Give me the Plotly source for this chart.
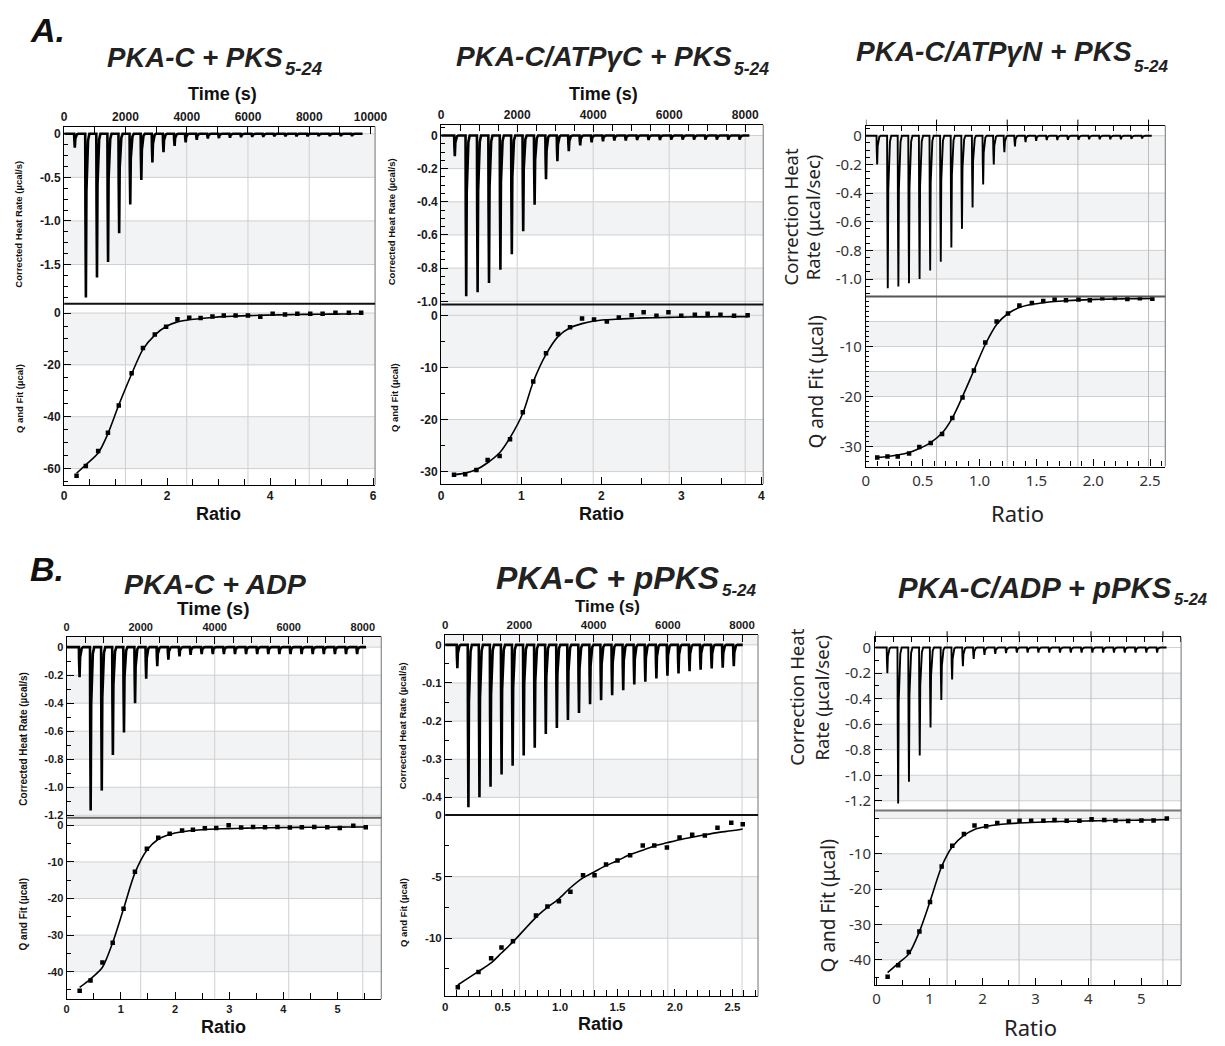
import plotly.graph_objects as go

W, H = 1225, 1046

# ---------------- data ----------------
# Thermograms: injection times (s) and peak heat rate (µcal/s)
A1_time = [324, 686, 1048, 1410, 1772, 2134, 2496, 2858, 3220, 3582, 3944, 4306, 4668, 5030, 5392, 5754, 6116, 6478, 6840, 7202, 7564, 7926, 8288, 8650, 9012, 9374]
A1_peak = [-0.16, -1.88, -1.65, -1.47, -1.14, -0.81, -0.53, -0.33, -0.21, -0.14, -0.10, -0.07, -0.055, -0.05, -0.045, -0.04, -0.035, -0.035, -0.03, -0.03, -0.03, -0.03, -0.025, -0.025, -0.025, -0.025]
A1_end = 9740

A2_time = [340, 640, 940, 1240, 1540, 1840, 2140, 2440, 2740, 3040, 3340, 3640, 3940, 4240, 4540, 4840, 5140, 5440, 5740, 6040, 6340, 6640, 6940, 7240, 7540, 7840]
A2_peak = [-0.125, -0.97, -0.946, -0.89, -0.81, -0.716, -0.577, -0.417, -0.264, -0.155, -0.095, -0.06, -0.042, -0.035, -0.03, -0.03, -0.028, -0.028, -0.028, -0.025, -0.025, -0.025, -0.025, -0.025, -0.025, -0.025]
A2_end = 8110

A3_time = [300, 600, 900, 1200, 1500, 1800, 2100, 2400, 2700, 3000, 3300, 3600, 3900, 4200, 4500, 4800, 5100, 5400, 5700, 6000, 6300, 6600, 6900, 7200, 7500, 7800]
A3_peak = [-0.2, -1.065, -1.053, -1.03, -1.0, -0.94, -0.88, -0.78, -0.65, -0.50, -0.34, -0.2, -0.115, -0.074, -0.044, -0.035, -0.03, -0.03, -0.028, -0.028, -0.025, -0.025, -0.025, -0.025, -0.022, -0.02]
A3_end = 8090

B1_time = [330, 630, 930, 1230, 1530, 1830, 2130, 2430, 2730, 3030, 3330, 3630, 3930, 4230, 4530, 4830, 5130, 5430, 5730, 6030, 6330, 6630, 6930, 7230, 7530, 7830]
B1_peak = [-0.214, -1.165, -1.024, -0.77, -0.61, -0.40, -0.226, -0.136, -0.09, -0.066, -0.055, -0.05, -0.05, -0.05, -0.05, -0.05, -0.05, -0.05, -0.05, -0.05, -0.05, -0.05, -0.05, -0.05, -0.05, -0.05]
B1_end = 8090

B2_time = [310, 608, 906, 1204, 1502, 1800, 2098, 2396, 2694, 2992, 3290, 3588, 3886, 4184, 4482, 4780, 5078, 5376, 5674, 5972, 6270, 6568, 6866, 7164, 7462, 7760]
B2_peak = [-0.061, -0.426, -0.40, -0.372, -0.34, -0.317, -0.29, -0.27, -0.234, -0.218, -0.197, -0.179, -0.156, -0.145, -0.132, -0.119, -0.104, -0.097, -0.088, -0.081, -0.075, -0.069, -0.065, -0.062, -0.06, -0.056]
B2_end = 8020

B3_time = [320, 620, 920, 1220, 1520, 1820, 2120, 2420, 2720, 3020, 3320, 3620, 3920, 4220, 4520, 4820, 5120, 5420, 5720, 6020, 6320, 6620, 6920, 7220, 7520, 7820]
B3_peak = [-0.2, -1.22, -1.05, -0.845, -0.626, -0.41, -0.25, -0.147, -0.09, -0.057, -0.05, -0.044, -0.04, -0.04, -0.04, -0.04, -0.04, -0.04, -0.04, -0.04, -0.04, -0.04, -0.04, -0.04, -0.04, -0.04]
B3_end = 8100

# Isotherms: molar ratio, integrated heat Q (µcal) and fit (µcal)
A1_ratio = [0.24, 0.42, 0.66, 0.85, 1.06, 1.31, 1.53, 1.76, 1.98, 2.20, 2.43, 2.65, 2.88, 3.10, 3.33, 3.57, 3.81, 4.05, 4.29, 4.53, 4.78, 5.02, 5.27, 5.53, 5.77]
A1_q = [-62.8, -59.0, -53.2, -46.2, -35.7, -23.2, -13.5, -8.3, -5.3, -2.4, -1.8, -1.9, -1.3, -0.9, -0.9, -0.9, -1.4, -0.3, -0.6, -0.3, -0.3, -0.3, 0.1, 0.1, 0.1]
A1_fit = [-61.8, -58.5, -54.0, -46.5, -35.5, -23.5, -14.0, -8.5, -5.2, -3.4, -2.6, -2.1, -1.7, -1.4, -1.2, -1.0, -0.85, -0.75, -0.65, -0.55, -0.5, -0.45, -0.4, -0.35, -0.3]

A2_ratio = [0.16, 0.30, 0.44, 0.58, 0.73, 0.86, 1.02, 1.15, 1.31, 1.46, 1.61, 1.76, 1.91, 2.07, 2.22, 2.38, 2.53, 2.69, 2.84, 3.00, 3.17, 3.33, 3.49, 3.66, 3.83]
A2_q = [-30.6, -30.5, -29.7, -27.8, -27.0, -23.8, -18.6, -12.7, -7.3, -3.6, -2.3, -0.6, -0.8, -1.2, -0.4, 0.0, 0.6, -0.1, 0.6, -0.1, 0.1, 0.3, 0.1, -0.1, 0.0]
A2_fit = [-30.6, -30.3, -29.6, -28.3, -26.4, -23.5, -18.8, -12.8, -7.5, -4.1, -2.4, -1.6, -1.1, -0.85, -0.7, -0.6, -0.5, -0.45, -0.4, -0.35, -0.3, -0.3, -0.28, -0.26, -0.25]

A3_ratio = [0.10, 0.19, 0.28, 0.38, 0.47, 0.57, 0.67, 0.76, 0.85, 0.95, 1.05, 1.15, 1.25, 1.35, 1.46, 1.56, 1.66, 1.76, 1.87, 1.97, 2.08, 2.19, 2.30, 2.41, 2.52]
A3_q = [-32.2, -32.0, -32.0, -31.4, -30.1, -29.3, -27.5, -24.3, -20.2, -14.8, -9.2, -5.0, -3.4, -1.8, -1.3, -0.9, -0.6, -0.75, -0.6, -0.75, -0.36, -0.3, -0.5, -0.36, -0.43]
A3_fit = [-32.2, -32.0, -31.7, -31.2, -30.4, -29.2, -27.3, -24.3, -20.0, -14.8, -9.6, -5.6, -3.4, -2.2, -1.6, -1.25, -1.0, -0.85, -0.72, -0.62, -0.55, -0.5, -0.46, -0.43, -0.4]

B1_ratio = [0.24, 0.44, 0.66, 0.85, 1.05, 1.26, 1.48, 1.69, 1.90, 2.13, 2.33, 2.55, 2.76, 2.99, 3.22, 3.44, 3.66, 3.89, 4.12, 4.34, 4.57, 4.81, 5.04, 5.29, 5.52]
B1_q = [-45.2, -42.4, -37.5, -32.1, -22.8, -12.7, -6.4, -3.4, -2.3, -1.4, -1.2, -0.8, -0.7, 0.0, -0.6, -0.45, -0.55, -0.45, -0.6, -0.55, -0.45, -0.55, -0.7, -0.1, -0.55]
B1_fit = [-44.3, -42.0, -38.8, -32.0, -22.8, -13.0, -6.8, -3.8, -2.5, -1.75, -1.4, -1.15, -1.0, -0.9, -0.8, -0.72, -0.66, -0.62, -0.58, -0.55, -0.52, -0.5, -0.48, -0.46, -0.45]

B2_ratio = [0.11, 0.29, 0.40, 0.49, 0.59, 0.79, 0.89, 0.99, 1.09, 1.20, 1.30, 1.40, 1.50, 1.61, 1.72, 1.82, 1.93, 2.04, 2.15, 2.26, 2.37, 2.49, 2.59]
B2_q = [-13.98, -12.75, -11.63, -10.75, -10.24, -8.16, -7.43, -7.0, -6.23, -4.89, -4.89, -4.01, -3.69, -3.26, -2.46, -2.46, -2.62, -1.82, -1.6, -1.66, -1.02, -0.61, -0.75]
B2_fit = [-13.8, -12.7, -12.0, -11.2, -10.3, -8.3, -7.5, -6.8, -5.9, -5.1, -4.6, -4.1, -3.7, -3.2, -2.85, -2.5, -2.25, -2.0, -1.8, -1.6, -1.42, -1.27, -1.12]

B3_ratio = [0.21, 0.41, 0.61, 0.81, 1.01, 1.23, 1.43, 1.65, 1.85, 2.07, 2.28, 2.50, 2.70, 2.92, 3.15, 3.36, 3.59, 3.83, 4.06, 4.30, 4.51, 4.75, 5.00, 5.23, 5.48]
B3_q = [-44.8, -41.5, -37.8, -32.0, -23.6, -13.6, -7.7, -4.4, -2.0, -2.2, -1.3, -0.84, -0.65, -0.65, -0.65, -0.47, -0.65, -0.65, -0.2, -0.47, -0.56, -0.75, -0.56, -0.56, 0.0]
B3_fit = [-43.6, -41.0, -38.3, -32.0, -23.5, -13.6, -8.0, -4.8, -3.1, -2.3, -1.8, -1.5, -1.3, -1.15, -1.0, -0.9, -0.82, -0.75, -0.68, -0.62, -0.57, -0.52, -0.47, -0.42, -0.3]

# Tick labels
TIME_TICKS_10K = [0, 2000, 4000, 6000, 8000, 10000]
TIME_TICKS_8K = [0, 2000, 4000, 6000, 8000]
A1_ytop_ticks = [0, -0.5, -1.0, -1.5]
A1_ytop_text = ['0', '-0.5', '-1.0', '-1.5']
A1_q_ticks = [0, -20, -40, -60]
A1_r_ticks = [0, 2, 4, 6]
A2_ytop_ticks = [0, -0.2, -0.4, -0.6, -0.8, -1.0]
A2_ytop_text = ['0', '-0.2', '-0.4', '-0.6', '-0.8', '-1.0']
A2_q_ticks = [0, -10, -20, -30]
A2_r_ticks = [0, 1, 2, 3, 4]
A3_q_ticks = [-10, -20, -30]
A3_r_ticks = [0, 0.5, 1.0, 1.5, 2.0, 2.5]
A3_r_text = ['0', '0.5', '1.0', '1.5', '2.0', '2.5']
B1_ytop_ticks = [0, -0.2, -0.4, -0.6, -0.8, -1.0, -1.2]
B1_ytop_text = ['0', '-0.2', '-0.4', '-0.6', '-0.8', '-1.0', '-1.2']
B1_q_ticks = [0, -10, -20, -30, -40]
B1_r_ticks = [0, 1, 2, 3, 4, 5]
B2_ytop_ticks = [0, -0.1, -0.2, -0.3, -0.4]
B2_ytop_text = ['0', '-0.1', '-0.2', '-0.3', '-0.4']
B2_q_ticks = [0, -5, -10]
B2_r_ticks = [0, 0.5, 1.0, 1.5, 2.0, 2.5]
B2_r_text = ['0', '0.5', '1.0', '1.5', '2.0', '2.5']
B3_q_ticks = [-10, -20, -30, -40]


def lab(v):
    return [str(x) for x in v]


BAND = '#f2f3f5'
GRID = '#cfcfcf'

PANELS = [
    dict(box=(61, 376, 121.7, 300.5, 483.3), bold=True, tsize=12,
         time=A1_time, peak=A1_peak, end=A1_end, ratio=A1_ratio, q=A1_q, fit=A1_fit,
         trange=[0, 10150], yrange=[-1.949, 0.083], rrange=[0, 6.04], qrange=[-66.2, 3.63],
         t_vals=TIME_TICKS_10K, t_labels=True, t_minor=1000,
         y_vals=A1_ytop_ticks, y_text=A1_ytop_text, y_minor=0.125,
         q_vals=A1_q_ticks, q_text=lab(A1_q_ticks), q_minor=5,
         r_vals=A1_r_ticks, r_text=lab(A1_r_ticks), r_minor=0.5,
         bands_top=[(-0.5, 0), (-1.5, -1.0)], grid_top=[0, -0.5, -1.0, -1.5],
         bands_bot=[(-20, 0), (-60, -40)], grid_bot=[0, -20, -40, -60],
         sep_color='#111'),
    dict(box=(443, 769.3, 120, 301.5, 482.7), bold=True, tsize=12,
         time=A2_time, peak=A2_peak, end=A2_end, ratio=A2_ratio, q=A2_q, fit=A2_fit,
         trange=[0, 8475], yrange=[-1.02, 0.064], rrange=[0, 4.025], qrange=[-32.4, 2.05],
         t_vals=TIME_TICKS_8K, t_labels=True, t_minor=500,
         y_vals=A2_ytop_ticks, y_text=A2_ytop_text, y_minor=0.05,
         q_vals=A2_q_ticks, q_text=lab(A2_q_ticks), q_minor=5,
         r_vals=A2_r_ticks, r_text=lab(A2_r_ticks), r_minor=0.5,
         bands_top=[(-0.2, 0), (-0.6, -0.4), (-1.0, -0.8)], grid_top=[0, -0.2, -0.4, -0.6, -0.8, -1.0],
         bands_bot=[(-10, 3), (-30, -20)], grid_bot=[0, -10, -20, -30],
         sep_color='#111'),
    dict(box=(873.3, 1176.7, 120.7, 293.3, 465), bold=False, tsize=15,
         time=A3_time, peak=A3_peak, end=A3_end, ratio=A3_ratio, q=A3_q, fit=A3_fit,
         trange=[0, 8475], yrange=[-1.122, 0.071], rrange=[0, 2.634], qrange=[-34.0, 0.0],
         t_vals=TIME_TICKS_8K, t_labels=False, t_minor=500,
         y_vals=A2_ytop_ticks, y_text=A2_ytop_text, y_minor=0.05,
         q_vals=A3_q_ticks, q_text=lab(A3_q_ticks), q_minor=1,
         r_vals=A3_r_ticks, r_text=A3_r_text, r_minor=0.1,
         bands_top=[(-0.2, 0), (-0.6, -0.4), (-1.0, -0.8)], grid_top=[0, -0.2, -0.4, -0.6, -0.8, -1.0],
         bands_bot=[(-10, -5), (-20, -15), (-30, -25)], grid_bot=[-5, -10, -15, -20, -25, -30],
         sep_color='#555'),
    dict(box=(63.5, 382.3, 636.7, 819.5, 1002.7), bold=True, tsize=11,
         time=B1_time, peak=B1_peak, end=B1_end, ratio=B1_ratio, q=B1_q, fit=B1_fit,
         trange=[0, 8501], yrange=[-1.217, 0.075], rrange=[0, 5.807], qrange=[-47.5, 2.1],
         t_vals=TIME_TICKS_8K, t_labels=True, t_minor=500,
         y_vals=B1_ytop_ticks, y_text=B1_ytop_text, y_minor=0.1,
         q_vals=B1_q_ticks, q_text=lab(B1_q_ticks), q_minor=5,
         r_vals=B1_r_ticks, r_text=lab(B1_r_ticks), r_minor=0.5,
         bands_top=[(0, 0.2), (-0.4, -0.2), (-0.8, -0.6), (-1.2, -1.0)], grid_top=[0, -0.2, -0.4, -0.6, -0.8, -1.0, -1.2],
         bands_bot=[(0, 10), (-20, -10), (-40, -30)], grid_bot=[0, -10, -20, -30, -40],
         sep_color='#666'),
    dict(box=(447, 764, 635, 816.7, 1000), bold=True, tsize=11.5,
         time=B2_time, peak=B2_peak, end=B2_end, ratio=B2_ratio, q=B2_q, fit=B2_fit,
         trange=[0, 8431], yrange=[-0.446, 0.026], rrange=[0, 2.723], qrange=[-14.73, 0.02],
         t_vals=TIME_TICKS_8K, t_labels=True, t_minor=500,
         y_vals=B2_ytop_ticks, y_text=B2_ytop_text, y_minor=0.05,
         q_vals=B2_q_ticks, q_text=lab(B2_q_ticks), q_minor=2.5,
         r_vals=B2_r_ticks, r_text=B2_r_text, r_minor=0.1,
         bands_top=[(0, 0.1), (-0.2, -0.1), (-0.4, -0.3)], grid_top=[0, -0.1, -0.2, -0.3, -0.4],
         bands_bot=[(-10, -5)], grid_bot=[-5, -10],
         sep_color='#111'),
    dict(box=(882.7, 1192.7, 637.3, 812.3, 988.3), bold=False, tsize=15,
         time=B3_time, peak=B3_peak, end=B3_end, ratio=B3_ratio, q=B3_q, fit=B3_fit,
         trange=[0, 8505], yrange=[-1.276, 0.081], rrange=[-0.025, 5.75], qrange=[-47.06, 2.24],
         t_vals=TIME_TICKS_8K, t_labels=False, t_minor=500,
         y_vals=B1_ytop_ticks, y_text=B1_ytop_text, y_minor=0.1,
         q_vals=B3_q_ticks, q_text=lab(B3_q_ticks), q_minor=5,
         r_vals=B1_r_ticks, r_text=lab(B1_r_ticks), r_minor=0.5,
         bands_top=[(-0.4, -0.2), (-0.8, -0.6), (-1.2, -1.0)], grid_top=[0, -0.2, -0.4, -0.6, -0.8, -1.0, -1.2],
         bands_bot=[(0, 10), (-20, -10), (-40, -30)], grid_bot=[0, -10, -20, -30, -40],
         sep_color='#777'),
]

# spike outline (seconds after injection at ~26 s/px, fraction of peak)
SPIKE_DT = [0, 6, 18, 32, 50, 75, 110]
SPIKE_FR = [0, 0.5, 1.0, 0.35, 0.12, 0.04, 0.0]


def sfx(n):
    return '' if n == 1 else str(n)


fig = go.Figure()
shapes, annos = [], []
axes = {}

for i, p in enumerate(PANELS):
    a, b = 2 * i + 1, 2 * i + 2
    xa, ya, xb, yb = 'x' + sfx(a), 'y' + sfx(a), 'x' + sfx(b), 'y' + sfx(b)
    L, R, T, S, B = p['box']
    bold = p['bold']
    if bold:
        tf = dict(family='Liberation Sans, Arial', size=p['tsize'], color='#1a1a1a', weight='bold')
    else:
        tf = dict(family='Noto Sans', size=p['tsize'], color='#333333')

    # thermogram trace
    sc = (p['trange'][1] / (R - L)) / 26.0
    xs, ys = [0.0], [0.0]
    for t, pk in zip(p['time'], p['peak']):
        for dt, fr in zip(SPIKE_DT, SPIKE_FR):
            xs.append(t + dt * sc)
            ys.append(pk * fr)
    xs.append(p['end'])
    ys.append(0.0)
    fig.add_trace(go.Scatter(x=xs, y=ys, mode='lines', xaxis=xa, yaxis=ya,
                             line=dict(color='black', width=2.6 if bold else 1.9),
                             hoverinfo='skip'))
    # isotherm
    fig.add_trace(go.Scatter(x=p['ratio'], y=p['fit'], mode='lines', xaxis=xb, yaxis=yb,
                             line=dict(color='black', width=1.6, shape='spline', smoothing=0.8),
                             hoverinfo='skip'))
    fig.add_trace(go.Scatter(x=p['ratio'], y=p['q'], mode='markers', xaxis=xb, yaxis=yb,
                             marker=dict(symbol='square', size=4.5, color='black'),
                             hoverinfo='skip'))

    tick_major = dict(ticks='inside', ticklen=7, tickcolor='black', tickwidth=1)
    common = dict(showline=True, linecolor='black', linewidth=1.3, showgrid=False,
                  zeroline=False, tickfont=tf, tickmode='array', fixedrange=True)

    if p['t_labels']:
        axes['xaxis' + sfx(a)] = dict(
            domain=[L / W, R / W], range=p['trange'], anchor=ya, side='top',
            tickvals=p['t_vals'], ticktext=lab(p['t_vals']),
            ticks='inside', ticklen=7, tickcolor='black',
            minor=dict(dtick=p['t_minor'], tick0=0, ticks='inside', ticklen=6,
                       tickcolor='black', showgrid=False),
            **common)
    else:
        # no tick labels: minor ticks inside, major ticks drawn above the frame
        axes['xaxis' + sfx(a)] = dict(
            domain=[L / W, R / W], range=p['trange'], anchor=ya, side='top',
            tickvals=[], showticklabels=False, ticks='',
            minor=dict(dtick=p['t_minor'], tick0=0, ticks='inside', ticklen=5,
                       tickcolor='black', showgrid=False),
            **common)
        for v in p['t_vals']:
            shapes.append(dict(type='line', xref=xa, yref='paper', x0=v, x1=v,
                               y0=1 - T / H, y1=1 - (T - 6) / H,
                               line=dict(color='black', width=1)))
    axes['yaxis' + sfx(a)] = dict(
        domain=[1 - S / H, 1 - T / H], range=p['yrange'], anchor=xa, side='left',
        tickvals=p['y_vals'], ticktext=p['y_text'], **tick_major,
        minor=dict(dtick=p['y_minor'], tick0=0, ticks='inside', ticklen=4,
                   tickcolor='black', showgrid=False),
        **common)
    axes['xaxis' + sfx(b)] = dict(
        domain=[L / W, R / W], range=p['rrange'], anchor=yb, side='bottom',
        tickvals=p['r_vals'], ticktext=p['r_text'], **tick_major,
        minor=dict(dtick=p['r_minor'], tick0=0, ticks='inside', ticklen=6 if bold else 5,
                   tickcolor='black', showgrid=False),
        **common)
    axes['yaxis' + sfx(b)] = dict(
        domain=[1 - B / H, 1 - S / H], range=p['qrange'], anchor=xb, side='left',
        tickvals=p['q_vals'], ticktext=p['q_text'], **tick_major,
        minor=dict(dtick=p['q_minor'], tick0=0, ticks='inside',
                   ticklen=4 if p['q_minor'] >= 2 else 3, tickcolor='black', showgrid=False),
        **common)

    # bands and grids
    for bands, grids, xr, yr, rng in [(p['bands_top'], p['grid_top'], xa, ya, p['yrange']),
                                      (p['bands_bot'], p['grid_bot'], xb, yb, p['qrange'])]:
        lo, hi = rng
        for y0, y1 in bands:
            y0c, y1c = max(y0, lo), min(y1, hi)
            if y1c > y0c:
                shapes.append(dict(type='rect', xref=xr + ' domain', yref=yr, x0=0, x1=1,
                                   y0=y0c, y1=y1c, fillcolor=BAND, line=dict(width=0), layer='below'))
        for v in grids:
            if lo < v < hi:
                shapes.append(dict(type='line', xref=xr + ' domain', yref=yr, x0=0, x1=1,
                                   y0=v, y1=v, line=dict(color=GRID, width=1), layer='below'))
    vcol = '#d0d0d0' if bold else '#bdbdbd'
    for v in [2000, 4000, 6000, 8000]:
        for yr in (ya, yb):
            shapes.append(dict(type='line', xref=xa, yref=yr + ' domain', x0=v, x1=v, y0=0, y1=1,
                               line=dict(color=vcol, width=1), layer='below'))
    # right frame and separator
    shapes.append(dict(type='line', xref='paper', yref='paper', x0=R / W, x1=R / W,
                       y0=1 - B / H, y1=1 - T / H, line=dict(color='#8a8a8a', width=1.2)))
    shapes.append(dict(type='line', xref='paper', yref='paper', x0=L / W, x1=R / W,
                       y0=1 - S / H, y1=1 - S / H, line=dict(color=p['sep_color'], width=2)))


SANS = 'Liberation Sans, Arial'
NOTO = 'Noto Sans'


def txt(text, x, y, size, family=SANS, angle=0, color='#111', weight='normal',
        style='normal', xanchor='center'):
    annos.append(dict(text=text, x=x / W, y=1 - y / H, xref='paper', yref='paper',
                      showarrow=False, xanchor=xanchor, yanchor='middle', textangle=angle,
                      borderpad=0,
                      font=dict(family=family, size=size, color=color, weight=weight, style=style)))


def title(main, sub, x_end, y_main, y_sub, size, sub_size):
    txt(main, x_end + 1, y_main, size, color='#222', weight='bold', style='italic', xanchor='right')
    txt(sub, x_end + 1, y_sub, sub_size, color='#222', weight='bold', style='italic', xanchor='left')


# panel letters
txt('A.', 44, 24, 34, weight='bold', style='italic')
txt('B.', 44, 568, 34, weight='bold', style='italic')
# titles (main part right-aligned, subscript following it)
title('PKA-C + PKS', '5-24', 283, 52, 63, 27.6, 18.5)
title('PKA-C/ATPγC + PKS', '5-24', 738, 51, 64, 28, 17.5)
title('PKA-C/ATPγN + PKS', '5-24', 1143, 46, 61, 28, 17)
txt('PKA-C + ADP', 214, 584, 28.5, color='#222', weight='bold', style='italic')
title('PKA-C + pPKS', '5-24', 725, 578, 590, 32, 17)
title('PKA-C/ADP + pPKS', '5-24', 1183, 587, 598.5, 29.3, 16.5)
# time titles
txt('Time (s)', 221, 89, 18, weight='bold')
txt('Time (s)', 607.5, 89, 18, weight='bold')
txt('Time (s)', 212, 608, 19, weight='bold')
txt('Time (s)', 611.5, 606.5, 17, weight='bold')
# ratio titles
txt('Ratio', 217.5, 513, 18, weight='bold')
txt('Ratio', 605.8, 513, 18, weight='bold')
txt('Ratio', 1026.7, 512, 22, family=NOTO, color='#222')
txt('Ratio', 222.5, 1030.7, 18, weight='bold')
txt('Ratio', 604, 1028, 18, weight='bold')
txt('Ratio', 1040, 1031, 22, family=NOTO, color='#222')
# y titles
txt('Corrected Heat Rate (µcal/s)', 15, 220, 9.5, angle=-90, weight='bold')
txt('Q and Fit (µcal)', 15, 396, 9.5, angle=-90, weight='bold')
txt('Corrected Heat Rate (µcal/s)', 393.5, 218, 9.5, angle=-90, weight='bold')
txt('Q and Fit (µcal)', 395, 395, 9.5, angle=-90, weight='bold')
txt('Correction Heat', 797, 213, 18.5, family=NOTO, angle=-90, color='#222')
txt('Rate (μcal/sec)', 820, 213, 18.5, family=NOTO, angle=-90, color='#222')
txt('Q and Fit (μcal)', 823, 380, 19, family=NOTO, angle=-90, color='#222')
txt('Corrected Heat Rate (µcal/s)', 20, 740, 10, angle=-90, weight='bold')
txt('Q and Fit (µcal)', 20, 917.5, 10, angle=-90, weight='bold')
txt('Corrected Heat Rate (µcal/s)', 403.5, 727, 9.5, angle=-90, weight='bold')
txt('Q and Fit (µcal)', 405, 915, 9.5, angle=-90, weight='bold')
txt('Correction Heat', 803, 698, 18.5, family=NOTO, angle=-90, color='#222')
txt('Rate (μcal/sec)', 828, 698, 18.5, family=NOTO, angle=-90, color='#222')
txt('Q and Fit (μcal)', 835, 909, 19, family=NOTO, angle=-90, color='#222')

fig.update_layout(width=W, height=H, margin=dict(l=0, r=0, t=0, b=0, pad=0),
                  paper_bgcolor='white', plot_bgcolor='white', showlegend=False,
                  shapes=shapes, annotations=annos, hovermode=False, **axes)

fig.write_html('out.html')
